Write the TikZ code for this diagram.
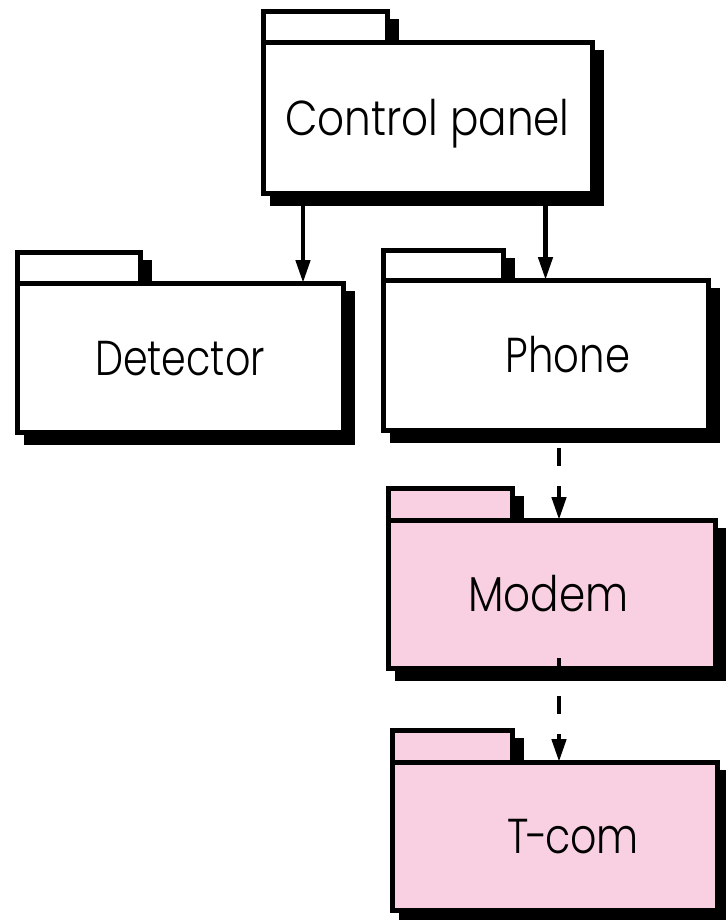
\documentclass[tikz,border=0pt]{standalone}
\usepackage{fontspec}
\setmainfont{Poppins Light}
\usetikzlibrary{arrows.meta}
\definecolor{pkgpink}{RGB}{248,208,225}
\tikzset{
  pkgline/.style={line width=5pt, draw=black, line join=miter},
  pkgbody/.style={pkgline, rectangle, inner sep=0pt, outer sep=0pt,
    text height=35pt, text depth=0pt, font=\fontsize{49}{56}\selectfont},
  assoc/.style={line width=4.5pt, -{Triangle[length=23pt,width=14pt]}},
  dep/.style={assoc, dash pattern=on 18pt off 20pt},
}
% label with horizontal offset (hspace) and condensed width
\newcommand{\pkglabel}[3][0pt]{\hspace*{#1}\scalebox{#2}[1]{#3}}
% #1 name, #2 left, #3 tab top, #4 tab right, #5 body top, #6 right, #7 bottom, #8 fill, #9 label
\newcommand{\umlpackage}[9]{%
  \filldraw[black, line width=5pt, shift={(9,10)}]
    (#2,#3) -- (#4,#3) -- (#4,#5) -- (#6,#5) -- (#6,#7) -- (#2,#7) -- cycle;
  \draw[pkgline, fill=#8] (#2,#3) rectangle (#4,#5);
  \node[pkgbody, fill=#8, minimum width={(#6-#2)*1pt}, minimum height={(#7-#5)*1pt}]
    (#1) at ({(#2+#6)/2},{(#5+#7)/2}) {#9};
}
\begin{document}
\begin{tikzpicture}[x=1pt, y=-1pt]
\useasboundingbox (0,0) rectangle (725,920);

\umlpackage{cp}{263}{12}{387}{43}{592}{193}{white}{\pkglabel{0.86}{Control panel}}
\umlpackage{det}{17}{252}{140}{283}{343}{432}{white}{\pkglabel{0.81}{Detector}}
\umlpackage{phone}{383}{250}{503}{280}{708}{430}{white}{\pkglabel[45pt]{0.82}{Phone}}
\umlpackage{modem}{388}{488}{512}{520}{715}{668}{pkgpink}{\pkglabel[-6pt]{0.86}{Modem}}
\umlpackage{tcom}{392}{730}{512}{762}{717}{910}{pkgpink}{\pkglabel[37pt]{0.84}{T\kern-2.5pt-\kern-3.5pt com}}

% connector end points
\coordinate (detIn) at ([xshift=123pt]det.north);
\coordinate (phoneOut) at ([xshift=13.5pt]phone.south);
\coordinate (modemIn) at ([xshift=7.5pt]modem.north);
\coordinate (modemOut) at ([xshift=7.5pt,yshift=10pt]modem.south);
\coordinate (tcomIn) at ([xshift=4.5pt]tcom.north);

\draw[assoc] (detIn |- cp.south) -- (detIn);
\draw[assoc] (phone.north |- cp.south) -- (phone.north);
\draw[dep, dash phase=20pt] (phoneOut) -- (modemIn);
\draw[dep] (modemOut) -- (tcomIn);
\end{tikzpicture}
\end{document}
